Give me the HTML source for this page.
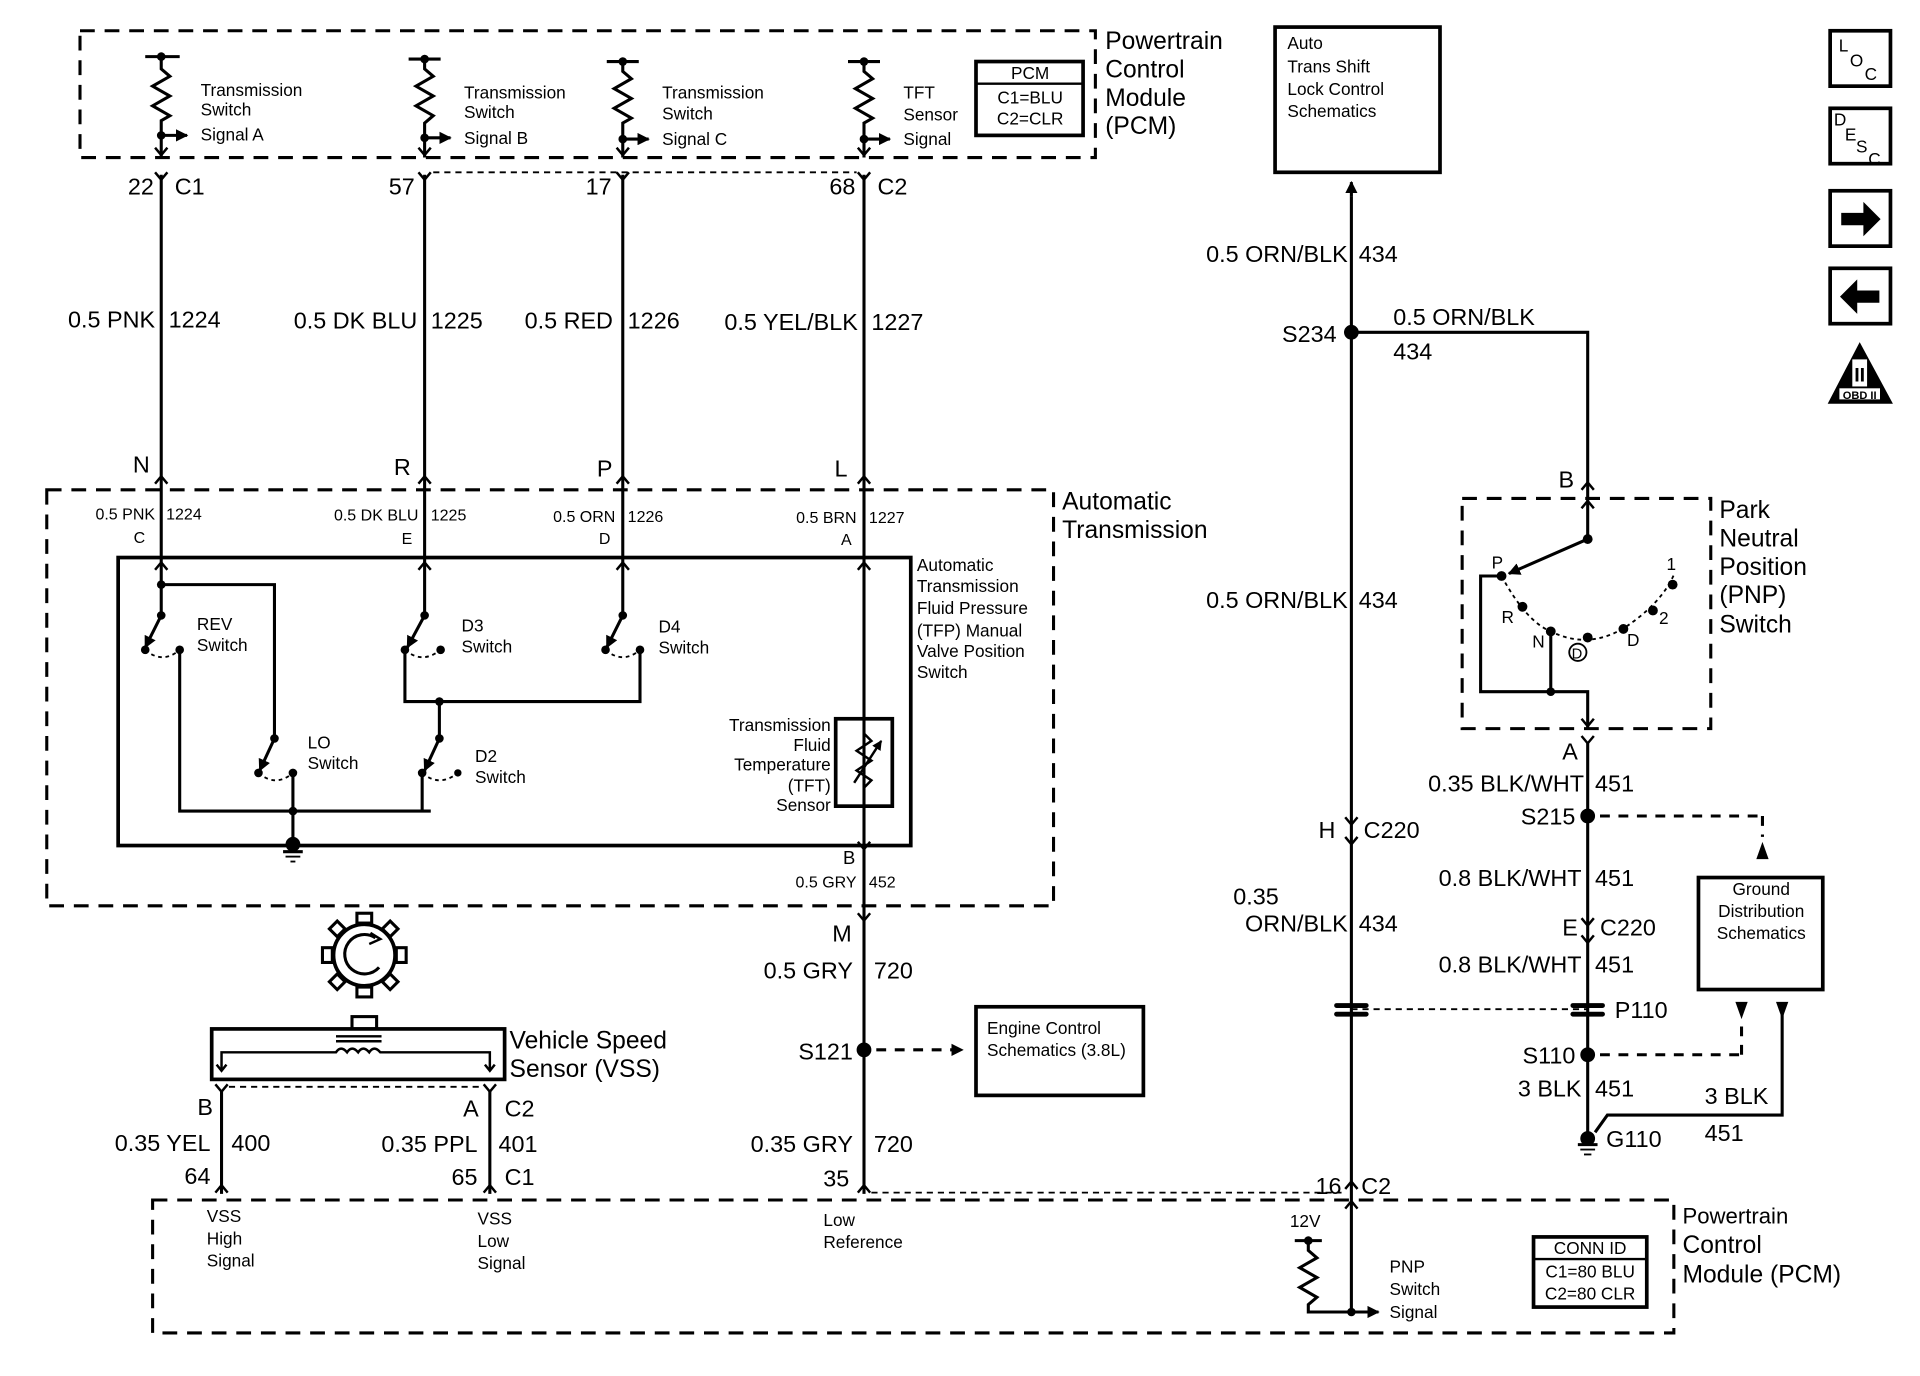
<!DOCTYPE html>
<html><head><meta charset="utf-8"><style>
html,body{margin:0;padding:0;background:#fff;}
svg{display:block;}
text{font-family:"Liberation Sans",sans-serif;fill:#000;}
</style></head><body>
<svg width="1920" height="1376" viewBox="0 0 1560 1118" preserveAspectRatio="none" xmlns="http://www.w3.org/2000/svg">
<defs>
<marker id="ah" viewBox="0 0 10 10" refX="9" refY="5" markerWidth="4" markerHeight="4" orient="auto"><path d="M0,0 L10,5 L0,10 z" fill="#000"/></marker>
</defs>
<g fill="none" stroke="#000" stroke-width="2.5">
<rect x="65" y="25" width="825" height="103" stroke-dasharray="12,8"/>
<rect x="793" y="50" width="87" height="60" stroke-width="3"/>
<line x1="793" y1="68" x2="880" y2="68" stroke-width="2"/>
<line x1="118" y1="46" x2="146" y2="46"/>
<polyline points="131,46 131,56 138,62 124,70 138,78 124,86 138,94 131,98 131,128"/>
<line x1="131" y1="110" x2="152" y2="110" marker-end="url(#ah)"/>
<polyline points="332,48 358,48"/><polyline points="345,48 345,56 352,62 338,70 352,78 338,86 352,94 345,100 345,128"/>
<line x1="345" y1="112" x2="366" y2="112" marker-end="url(#ah)"/>
<polyline points="493,50 519,50"/><polyline points="506,50 506,58 513,64 499,72 513,80 499,88 513,96 506,100 506,128"/>
<line x1="506" y1="113" x2="527" y2="113" marker-end="url(#ah)"/>
<polyline points="689,50 715,50"/><polyline points="702,50 702,58 709,64 695,72 709,80 695,88 709,96 702,100 702,128"/>
<line x1="702" y1="113" x2="723" y2="113" marker-end="url(#ah)"/>
<g stroke-width="2">
<path d="M126,120 L131,126 L136,120"/><path d="M126,140 L131,146 L136,140"/>
<path d="M340,120 L345,126 L350,120"/><path d="M340,140 L345,146 L350,140"/>
<path d="M501,120 L506,126 L511,120"/><path d="M501,140 L506,146 L511,140"/>
<path d="M697,120 L702,126 L707,120"/><path d="M697,140 L702,146 L707,140"/>
</g>
<line x1="352" y1="140" x2="696" y2="140" stroke-width="1.5" stroke-dasharray="5,4"/>
<line x1="131" y1="142" x2="131" y2="500"/>
<line x1="345" y1="142" x2="345" y2="500"/>
<line x1="506" y1="142" x2="506" y2="500"/>
<line x1="702" y1="142" x2="702" y2="970"/>
<g stroke-width="2">
<path d="M126,393 L131,387 L136,393"/><path d="M340,393 L345,387 L350,393"/><path d="M501,393 L506,387 L511,393"/><path d="M697,393 L702,387 L707,393"/>
<path d="M126,463 L131,457 L136,463"/><path d="M340,463 L345,457 L350,463"/><path d="M501,463 L506,457 L511,463"/><path d="M697,463 L702,457 L707,463"/>
<path d="M697,684 L702,690 L707,684"/><path d="M697,742 L702,748 L707,742"/>
</g>
<rect x="38" y="398" width="818" height="338" stroke-dasharray="12,8"/>
<rect x="96" y="453" width="644" height="234" stroke-width="3"/>
<polyline points="131,475 223,475 223,600"/>
<line x1="131" y1="500" x2="118" y2="526" marker-end="url(#ah)"/>
<path d="M118,528 Q132,540 146,528" stroke-width="1.5" stroke-dasharray="3,3"/>
<polyline points="146,528 146,659 350,659"/>
<line x1="223" y1="600" x2="211" y2="626" marker-end="url(#ah)"/>
<path d="M210,628 Q224,640 238,628" stroke-width="1.5" stroke-dasharray="3,3"/>
<line x1="238" y1="628" x2="238" y2="688"/>
<line x1="345" y1="500" x2="331" y2="526" marker-end="url(#ah)"/>
<path d="M329,528 Q343,540 358,528" stroke-width="1.5" stroke-dasharray="3,3"/>
<polyline points="329,528 329,570 520,570 520,528"/>
<line x1="506" y1="500" x2="493" y2="526" marker-end="url(#ah)"/>
<path d="M492,528 Q506,540 520,528" stroke-width="1.5" stroke-dasharray="3,3"/>
<line x1="357" y1="570" x2="357" y2="600"/>
<line x1="357" y1="600" x2="345" y2="626" marker-end="url(#ah)"/>
<path d="M343,628 Q357,640 372,628" stroke-width="1.5" stroke-dasharray="3,3"/>
<line x1="343" y1="628" x2="343" y2="659"/>
<line x1="230" y1="692" x2="246" y2="692"/><line x1="232" y1="696" x2="244" y2="696" stroke-width="1.5"/><line x1="236" y1="700" x2="240" y2="700" stroke-width="1.5"/>
<rect x="679" y="584" width="46" height="71" stroke-width="3"/>
<polyline points="702,596 708,602 696,610 708,618 696,626 708,634 702,640" stroke-width="2"/>
<line x1="694" y1="636" x2="716" y2="602" stroke-width="2" marker-end="url(#ah)"/>
<line x1="712" y1="853" x2="782" y2="853" stroke-dasharray="8,7" marker-end="url(#ah)"/>
<rect x="793" y="818" width="136" height="72" stroke-width="3"/>
<circle cx="296" cy="776" r="25" stroke-width="3"/>
<path d="M305,762 A16,16 0 1 0 308,786" stroke-width="2.5"/>
<path d="M301,758 L309,763 L300,767" stroke-width="2"/>
<g stroke-width="2.5">
<rect x="290" y="742" width="12" height="8"/><rect x="290" y="802" width="12" height="8"/>
<rect x="262" y="770" width="8" height="12"/><rect x="322" y="770" width="8" height="12"/>
<rect x="270" y="750" width="9" height="9" transform="rotate(45 274 754)"/><rect x="313" y="750" width="9" height="9" transform="rotate(45 317 754)"/>
<rect x="270" y="793" width="9" height="9" transform="rotate(45 274 797)"/><rect x="313" y="793" width="9" height="9" transform="rotate(45 317 797)"/>
</g>
<rect x="286" y="826" width="20" height="10" stroke-width="2.5"/>
<rect x="172" y="836" width="238" height="41" stroke-width="3"/>
<line x1="273" y1="842" x2="310" y2="842" stroke-width="2"/><line x1="273" y1="846" x2="310" y2="846" stroke-width="2"/>
<path d="M180,870 L180,855 L273,855 q4,-6 9,0 q4,-6 9,0 q4,-6 9,0 q4,-6 9,0 L398,855 L398,870" stroke-width="2"/>
<path d="M176,865 L180,870 L184,865 M394,865 L398,870 L402,865" stroke-width="2"/>
<path d="M175,881 L180,887 L185,881 M393,881 L398,887 L403,881" stroke-width="2"/>
<line x1="186" y1="883" x2="392" y2="883" stroke-width="1.5" stroke-dasharray="5,4"/>
<line x1="180" y1="886" x2="180" y2="970"/><line x1="398" y1="886" x2="398" y2="970"/>
<g stroke-width="2"><path d="M175,969 L180,963 L185,969 M393,969 L398,963 L403,969 M697,969 L702,963 L707,969"/></g>
<line x1="708" y1="969" x2="1090" y2="969" stroke-width="1.5" stroke-dasharray="5,4"/>
<rect x="124" y="975" width="1236" height="108" stroke-dasharray="12,8"/>
<line x1="1052" y1="1008" x2="1074" y2="1008"/>
<polyline points="1063,1008 1063,1016 1070,1022 1056,1030 1070,1038 1056,1046 1070,1054 1063,1060 1063,1066 1098,1066"/>
<line x1="1098" y1="1066" x2="1120" y2="1066" marker-end="url(#ah)"/>
<rect x="1246" y="1005" width="92" height="57" stroke-width="3"/>
<line x1="1246" y1="1023" x2="1338" y2="1023" stroke-width="2"/>
<line x1="1098" y1="160" x2="1098" y2="1066"/>
<line x1="1098" y1="160" x2="1098" y2="148" marker-end="url(#ah)"/>
<rect x="1036" y="22" width="134" height="118" stroke-width="3"/>
<g stroke-width="2">
<path d="M1093,982 L1098,976 L1103,982 M1093,966 L1098,960 L1103,966"/>
<path d="M1093,664 L1098,670 L1103,664 M1093,680 L1098,686 L1103,680"/>
<path d="M1285,398 L1290,392 L1295,398 M1285,413 L1290,407 L1295,413"/>
<path d="M1285,584 L1290,590 L1295,584 M1285,598 L1290,604 L1295,598"/>
<path d="M1285,746 L1290,752 L1295,746 M1285,760 L1290,766 L1295,760"/>
</g>
<polyline points="1098,270 1290,270 1290,438"/>
<rect x="1188" y="405" width="202" height="187" stroke-dasharray="12,8"/>
<line x1="1290" y1="438" x2="1226" y2="466" marker-end="url(#ah)"/>
<path d="M1220,468 Q1240,505 1260,513 Q1290,528 1320,510 Q1350,490 1360,467" stroke-width="1.5" stroke-dasharray="3,3"/>
<polyline points="1220,468 1203,468 1203,562 1290,562 1290,592"/>
<line x1="1260" y1="513" x2="1260" y2="562"/>
<circle cx="1282" cy="530" r="7" stroke-width="1.5"/>
<line x1="1290" y1="604" x2="1290" y2="925"/>
<line x1="1300" y1="663" x2="1432" y2="663" stroke-dasharray="8,7"/>
<line x1="1432" y1="663" x2="1432" y2="680" stroke-dasharray="8,7"/>
<rect x="1380" y="713" width="101" height="91" stroke-width="3"/>
<line x1="1098" y1="820" x2="1290" y2="820" stroke-width="1.5" stroke-dasharray="5,4"/>
<line x1="1300" y1="857" x2="1415" y2="857" stroke-dasharray="8,7"/>
<line x1="1415" y1="857" x2="1415" y2="830" stroke-dasharray="8,7"/>
<polyline points="1296,920 1306,906 1448,906 1448,822"/>
<line x1="1282" y1="930" x2="1298" y2="930"/><line x1="1284" y1="934" x2="1296" y2="934" stroke-width="1.5"/><line x1="1287" y1="938" x2="1293" y2="938" stroke-width="1.5"/>
<rect x="1487" y="25" width="49" height="45" stroke-width="3"/>
<rect x="1487" y="88" width="49" height="45" stroke-width="3"/>
<rect x="1487" y="155" width="49" height="45" stroke-width="3"/>
<rect x="1487" y="218" width="49" height="45" stroke-width="3"/>
</g>
<g fill="#000">
<circle cx="131" cy="110" r="3.5"/><circle cx="345" cy="112" r="3.5"/><circle cx="506" cy="113" r="3.5"/><circle cx="702" cy="113" r="3.5"/>
<circle cx="131" cy="46" r="3.5"/><circle cx="345" cy="48" r="3.5"/><circle cx="506" cy="50" r="3.5"/><circle cx="702" cy="50" r="3.5"/>
<circle cx="131" cy="475" r="3.5"/><circle cx="131" cy="500" r="3.5"/><circle cx="118" cy="528" r="3.5"/><circle cx="146" cy="528" r="3.5"/>
<circle cx="223" cy="600" r="3.5"/><circle cx="210" cy="628" r="3.5"/><circle cx="238" cy="628" r="3.5"/><circle cx="238" cy="659" r="3.5"/><circle cx="238" cy="686" r="6"/>
<circle cx="345" cy="500" r="3.5"/><circle cx="329" cy="528" r="3.5"/><circle cx="358" cy="528" r="3.5"/>
<circle cx="506" cy="500" r="3.5"/><circle cx="492" cy="528" r="3.5"/><circle cx="520" cy="528" r="3.5"/>
<circle cx="357" cy="570" r="3.5"/><circle cx="357" cy="600" r="3.5"/><circle cx="343" cy="628" r="3.5"/><circle cx="372" cy="628" r="3"/>
<circle cx="702" cy="853" r="6"/><circle cx="1098" cy="270" r="6"/>
<circle cx="1290" cy="438" r="4"/><circle cx="1220" cy="468" r="4"/><circle cx="1237" cy="493" r="4"/><circle cx="1260" cy="513" r="4"/><circle cx="1290" cy="518" r="4"/><circle cx="1319" cy="511" r="4"/><circle cx="1343" cy="496" r="4"/><circle cx="1359" cy="475" r="4"/><circle cx="1260" cy="562" r="3.5"/>
<circle cx="1290" cy="663" r="6"/><circle cx="1290" cy="857" r="6"/><circle cx="1290" cy="925" r="6"/><circle cx="1063" cy="1008" r="3.5"/><circle cx="1098" cy="1066" r="3.5"/>
<path d="M1410,814 L1420,814 L1415,828 z"/><path d="M1443,814 L1453,814 L1448,828 z"/><path d="M1427,698 L1437,698 L1432,684 z"/>
<rect x="1084" y="815" width="28" height="4" rx="2"/><rect x="1084" y="822" width="28" height="4" rx="2"/>
<rect x="1276" y="815" width="28" height="4" rx="2"/><rect x="1276" y="822" width="28" height="4" rx="2"/>
<path d="M1496,173 L1514,173 L1514,164 L1528,178 L1514,192 L1514,183 L1496,183 z"/>
<path d="M1527,236 L1509,236 L1509,227 L1495,241 L1509,255 L1509,246 L1527,246 z"/>
<path d="M1511,278 L1538,328 L1485,328 z"/>
</g>
<rect x="1505" y="292" width="12" height="22" fill="#fff"/>
<rect x="1494" y="315" width="34" height="10" fill="#fff" stroke="#000" stroke-width="1"/>
<text x="1511" y="310" font-size="16" font-weight="bold" text-anchor="middle" font-family="Liberation Serif">II</text>
<text x="1511" y="324" font-size="9" font-weight="bold" text-anchor="middle">OBD II</text>
<text x="1494" y="42" font-size="14">L</text><text x="1503" y="54" font-size="14">O</text><text x="1515" y="65" font-size="14">C</text>
<text x="1490" y="102" font-size="14">D</text><text x="1499" y="114" font-size="14">E</text><text x="1508" y="124" font-size="14">S</text><text x="1518" y="134" font-size="14">C</text>
<g font-size="14">
<text x="163" y="78">Transmission</text><text x="163" y="94">Switch</text><text x="163" y="114">Signal A</text>
<text x="377" y="80">Transmission</text><text x="377" y="96">Switch</text><text x="377" y="117">Signal B</text>
<text x="538" y="80">Transmission</text><text x="538" y="97">Switch</text><text x="538" y="118">Signal C</text>
<text x="734" y="80">TFT</text><text x="734" y="98">Sensor</text><text x="734" y="118">Signal</text>
<text x="837" y="64" text-anchor="middle">PCM</text><text x="837" y="84" text-anchor="middle">C1=BLU</text><text x="837" y="101" text-anchor="middle">C2=CLR</text>
<text x="1046" y="40">Auto</text><text x="1046" y="59">Trans Shift</text><text x="1046" y="77">Lock Control</text><text x="1046" y="95">Schematics</text>
<text x="160" y="512">REV</text><text x="160" y="529">Switch</text>
<text x="375" y="513">D3</text><text x="375" y="530">Switch</text>
<text x="535" y="514">D4</text><text x="535" y="531">Switch</text>
<text x="250" y="608">LO</text><text x="250" y="625">Switch</text>
<text x="386" y="619">D2</text><text x="386" y="636">Switch</text>
<text x="745" y="464">Automatic</text><text x="745" y="481">Transmission</text><text x="745" y="499">Fluid Pressure</text><text x="745" y="517">(TFP) Manual</text><text x="745" y="534">Valve Position</text><text x="745" y="551">Switch</text>
<g text-anchor="end"><text x="675" y="594">Transmission</text><text x="675" y="610">Fluid</text><text x="675" y="626">Temperature</text><text x="675" y="643">(TFT)</text><text x="675" y="659">Sensor</text></g>
<text x="802" y="840">Engine Control</text><text x="802" y="858">Schematics (3.8L)</text>
<text x="168" y="993">VSS</text><text x="168" y="1011">High</text><text x="168" y="1029">Signal</text>
<text x="388" y="995">VSS</text><text x="388" y="1013">Low</text><text x="388" y="1031">Signal</text>
<text x="669" y="996">Low</text><text x="669" y="1014">Reference</text>
<text x="1048" y="997">12V</text>
<text x="1129" y="1034">PNP</text><text x="1129" y="1052">Switch</text><text x="1129" y="1071">Signal</text>
<text x="1292" y="1019" text-anchor="middle">CONN ID</text><text x="1292" y="1038" text-anchor="middle">C1=80 BLU</text><text x="1292" y="1056" text-anchor="middle">C2=80 CLR</text>
<text x="1431" y="727" text-anchor="middle">Ground</text><text x="1431" y="745" text-anchor="middle">Distribution</text><text x="1431" y="763" text-anchor="middle">Schematics</text>
<text x="1212" y="462">P</text><text x="1220" y="506">R</text><text x="1245" y="526">N</text><text x="1277" y="535" font-size="12">D</text><text x="1322" y="525">D</text><text x="1348" y="507">2</text><text x="1354" y="463">1</text>
</g>
<g font-size="13">
<text x="126" y="422" text-anchor="end">0.5 PNK</text><text x="135" y="422">1224</text><text x="118" y="441" text-anchor="end">C</text>
<text x="340" y="423" text-anchor="end">0.5 DK BLU</text><text x="350" y="423">1225</text><text x="335" y="442" text-anchor="end">E</text>
<text x="500" y="424" text-anchor="end">0.5 ORN</text><text x="510" y="424">1226</text><text x="496" y="442" text-anchor="end">D</text>
<text x="696" y="425" text-anchor="end">0.5 BRN</text><text x="706" y="425">1227</text><text x="692" y="443" text-anchor="end">A</text>
<text x="696" y="721" text-anchor="end">0.5 GRY</text><text x="706" y="721">452</text>
</g>
<g font-size="15"><text x="695" y="702" text-anchor="end">B</text></g>
<g font-size="19">
<text x="125" y="158" text-anchor="end">22</text><text x="142" y="158">C1</text>
<text x="337" y="158" text-anchor="end">57</text><text x="497" y="158" text-anchor="end">17</text>
<text x="695" y="158" text-anchor="end">68</text><text x="713" y="158">C2</text>
<g text-anchor="end"><text x="126" y="266">0.5 PNK</text><text x="339" y="267">0.5 DK BLU</text><text x="498" y="267">0.5 RED</text><text x="697" y="268">0.5 YEL/BLK</text></g>
<text x="137" y="266">1224</text><text x="350" y="267">1225</text><text x="510" y="267">1226</text><text x="708" y="268">1227</text>
<text x="108" y="384">N</text><text x="320" y="386">R</text><text x="485" y="387">P</text><text x="678" y="387">L</text>
<text x="692" y="765" text-anchor="end">M</text>
<text x="693" y="795" text-anchor="end">0.5 GRY</text><text x="710" y="795">720</text>
<text x="693" y="861" text-anchor="end">S121</text>
<text x="693" y="936" text-anchor="end">0.35 GRY</text><text x="710" y="936">720</text>
<text x="690" y="964" text-anchor="end">35</text>
<text x="173" y="906" text-anchor="end">B</text><text x="389" y="907" text-anchor="end">A</text><text x="410" y="907">C2</text>
<text x="171" y="935" text-anchor="end">0.35 YEL</text><text x="188" y="935">400</text>
<text x="388" y="936" text-anchor="end">0.35 PPL</text><text x="405" y="936">401</text>
<text x="171" y="962" text-anchor="end">64</text><text x="388" y="963" text-anchor="end">65</text><text x="410" y="963">C1</text>
<text x="1090" y="970" text-anchor="end">16</text><text x="1106" y="970">C2</text>
<text x="1095" y="213" text-anchor="end">0.5 ORN/BLK</text><text x="1104" y="213">434</text>
<text x="1086" y="278" text-anchor="end">S234</text>
<text x="1132" y="264">0.5 ORN/BLK</text><text x="1132" y="292">434</text>
<text x="1095" y="494" text-anchor="end">0.5 ORN/BLK</text><text x="1104" y="494">434</text>
<text x="1085" y="681" text-anchor="end">H</text><text x="1108" y="681">C220</text>
<text x="1002" y="735">0.35</text><text x="1095" y="757" text-anchor="end">ORN/BLK</text><text x="1104" y="757">434</text>
<text x="1279" y="396" text-anchor="end">B</text><text x="1282" y="617" text-anchor="end">A</text>
<text x="1287" y="643" text-anchor="end">0.35 BLK/WHT</text><text x="1296" y="643">451</text>
<text x="1280" y="670" text-anchor="end">S215</text>
<text x="1285" y="720" text-anchor="end">0.8 BLK/WHT</text><text x="1296" y="720">451</text>
<text x="1282" y="760" text-anchor="end">E</text><text x="1300" y="760">C220</text>
<text x="1285" y="790" text-anchor="end">0.8 BLK/WHT</text><text x="1296" y="790">451</text>
<text x="1312" y="827">P110</text>
<text x="1280" y="864" text-anchor="end">S110</text>
<text x="1285" y="891" text-anchor="end">3 BLK</text><text x="1296" y="891">451</text>
<text x="1385" y="897">3 BLK</text><text x="1385" y="927">451</text>
<text x="1305" y="932">G110</text>
</g>
<g font-size="20">
<text x="898" y="40">Powertrain</text><text x="898" y="63">Control</text><text x="898" y="86">Module</text><text x="898" y="109">(PCM)</text>
<text x="863" y="414">Automatic</text><text x="863" y="437">Transmission</text>
<text x="414" y="852">Vehicle Speed</text><text x="414" y="875">Sensor (VSS)</text>
<text x="1397" y="421">Park</text><text x="1397" y="444">Neutral</text><text x="1397" y="467">Position</text><text x="1397" y="490">(PNP)</text><text x="1397" y="514">Switch</text>
<text x="1367" y="994" font-size="18">Powertrain</text><text x="1367" y="1018">Control</text><text x="1367" y="1042">Module (PCM)</text>
</g>
</svg>
</body></html>
